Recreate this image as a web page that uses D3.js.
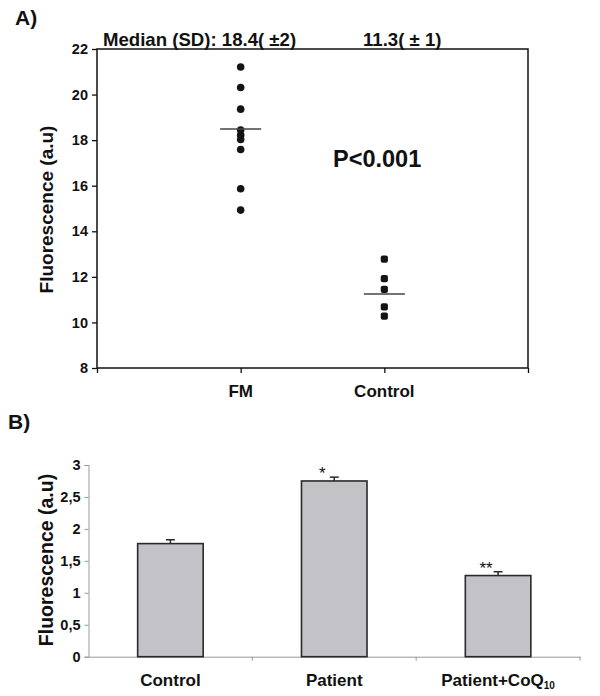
<!DOCTYPE html>
<html>
<head>
<meta charset="utf-8">
<script src="https://cdn.jsdelivr.net/npm/d3@7"></script>
<style>
  html, body { margin: 0; padding: 0; background: #fff; }
  svg { display: block; font-family: "Liberation Sans", Arial, sans-serif; }
</style>
</head>
<body>
<svg id="chart" width="600" height="696"></svg>
<script>
// ---------- Data: panel A ----------
const groupsA = ["FM", "Control"];
const fmValues = [21.21, 20.31, 19.36, 18.44, 18.22, 18.03, 17.59, 15.87, 14.93];
const controlValues = [12.78, 11.92, 11.45, 10.68, 10.28];
const mediansA = [18.49, 11.25];
const yTicksA = [8, 10, 12, 14, 16, 18, 20, 22];
const medianLabels = ["Median (SD): 18.4( \u00b12)", "11.3( \u00b1 1)"];
const pLabel = "P<0.001";

// ---------- Data: panel B ----------
const groupsB = ["Control", "Patient", "Patient+CoQ"];
const barValues = [1.77, 2.75, 1.27];
const barErrors = [0.06, 0.06, 0.06];
const barStars = ["", "*", "**"];
const yTicksB = [0, 0.5, 1, 1.5, 2, 2.5, 3];
const yTickLabelsB = ["0", "0,5", "1", "1,5", "2", "2,5", "3"];

const svg = d3.select("#chart");

// ================= Panel A =================
const A = { left: 97, right: 528, top: 49, bottom: 368 };
const xA = d3.scaleLinear().domain([0, 3]).range([A.left, A.right]);
const yA = d3.scaleLinear().domain([8, 22]).range([A.bottom, A.top]);

svg.append("text").attr("x", 15).attr("y", 25)
  .attr("font-size", 21).attr("font-weight", "bold").attr("fill", "#111").text("A)");

// frame
svg.append("rect").attr("x", A.left).attr("y", A.top)
  .attr("width", A.right - A.left).attr("height", A.bottom - A.top)
  .attr("fill", "none").attr("stroke", "#111").attr("stroke-width", 1.5);

// y axis
const gyA = svg.append("g").attr("transform", `translate(${A.left},0)`)
  .call(d3.axisLeft(yA).tickValues(yTicksA).tickSize(5).tickPadding(4).tickFormat(d3.format("d")));
gyA.select(".domain").remove();
gyA.selectAll("line").attr("stroke", "#111").attr("stroke-width", 1.3);
gyA.selectAll("text").attr("font-size", 14.5).attr("font-weight", "bold").attr("fill", "#111")
  .attr("font-family", "Liberation Sans, Arial, sans-serif");

// x axis ticks
const gxA = svg.append("g").attr("transform", `translate(0,${A.bottom})`)
  .call(d3.axisBottom(xA).tickValues([0, 1, 2, 3]).tickSize(5).tickFormat(""));
gxA.select(".domain").remove();
gxA.selectAll("line").attr("stroke", "#111").attr("stroke-width", 1.3);

// category labels
groupsA.forEach((g, i) => {
  svg.append("text").attr("x", xA(i + 1)).attr("y", 397)
    .attr("text-anchor", "middle").attr("font-size", 17).attr("font-weight", "bold")
    .attr("fill", "#111").text(g);
});

// y label
svg.append("text")
  .attr("transform", `translate(53,${(A.top + A.bottom) / 2 + 1}) rotate(-90)`)
  .attr("text-anchor", "middle").attr("font-size", 19).attr("font-weight", "bold")
  .attr("fill", "#111").text("Fluorescence (a.u)");

// median labels
svg.append("text").attr("x", 103).attr("y", 46).attr("font-size", 18.6)
  .attr("font-weight", "bold").attr("fill", "#111").text(medianLabels[0]);
svg.append("text").attr("x", 363).attr("y", 46).attr("font-size", 18.6)
  .attr("font-weight", "bold").attr("fill", "#111").text(medianLabels[1]);

// p label
svg.append("text").attr("x", 333).attr("y", 167)
  .attr("font-size", 23.5).attr("font-weight", "bold").attr("fill", "#111").text(pLabel);

// points
svg.append("g").selectAll("circle").data(fmValues).join("circle")
  .attr("cx", xA(1)).attr("cy", d => yA(d)).attr("r", 3.8).attr("fill", "#141414");
svg.append("g").selectAll("rect").data(controlValues).join("rect")
  .attr("x", xA(2) - 3.6).attr("y", d => yA(d) - 3.6).attr("width", 7.2).attr("height", 7.2)
  .attr("rx", 2).attr("fill", "#141414");

// median lines
mediansA.forEach((m, i) => {
  svg.append("line").attr("x1", xA(i + 1) - 20.5).attr("x2", xA(i + 1) + 20.5)
    .attr("y1", yA(m)).attr("y2", yA(m)).attr("stroke", "#444").attr("stroke-width", 1.6);
});

// ================= Panel B =================
const B = { left: 88.5, right: 580, top: 465, bottom: 656.7 };
const xB = d3.scaleBand().domain(groupsB).range([B.left, B.right]).paddingInner(0).paddingOuter(0);
const yB = d3.scaleLinear().domain([0, 3]).range([B.bottom, B.top]);
const barW = xB.bandwidth() * 0.4;

svg.append("text").attr("x", 8).attr("y", 429)
  .attr("font-size", 21).attr("font-weight", "bold").attr("fill", "#111").text("B)");

// y axis
const gyB = svg.append("g").attr("transform", `translate(${B.left},0)`)
  .call(d3.axisLeft(yB).tickValues(yTicksB).tickSize(4).tickPadding(4)
    .tickFormat((d, i) => yTickLabelsB[i]));
gyB.select(".domain").attr("stroke", "#999").attr("stroke-width", 1);
gyB.selectAll("line").attr("stroke", "#999");
gyB.selectAll("text").attr("font-size", 14.5).attr("font-weight", "bold").attr("fill", "#111")
  .attr("font-family", "Liberation Sans, Arial, sans-serif");

// x axis
const gxB = svg.append("g").attr("transform", `translate(0,${B.bottom})`)
  .call(d3.axisBottom(xB).tickSize(0).tickFormat(""));
gxB.select(".domain").attr("stroke", "#999").attr("stroke-width", 1);
gxB.append("g").selectAll("line").data(groupsB).join("line")
  .attr("x1", d => xB(d) + xB.bandwidth()).attr("x2", d => xB(d) + xB.bandwidth())
  .attr("y1", 0).attr("y2", 4).attr("stroke", "#999");

// bars
svg.append("g").selectAll("rect").data(groupsB).join("rect")
  .attr("x", d => xB(d) + xB.bandwidth() / 2 - barW / 2)
  .attr("y", (d, i) => yB(barValues[i]))
  .attr("width", barW)
  .attr("height", (d, i) => yB(0) - yB(barValues[i]))
  .attr("fill", "#c3c3c7").attr("stroke", "#2a2a2a").attr("stroke-width", 1.6);

// error bars
groupsB.forEach((g, i) => {
  const cx = xB(g) + xB.bandwidth() / 2;
  const yt = yB(barValues[i] + barErrors[i]);
  svg.append("line").attr("x1", cx).attr("x2", cx)
    .attr("y1", yB(barValues[i])).attr("y2", yt)
    .attr("stroke", "#2a2a2a").attr("stroke-width", 1.5);
  svg.append("line").attr("x1", cx - 4.5).attr("x2", cx + 4.5)
    .attr("y1", yt).attr("y2", yt)
    .attr("stroke", "#2a2a2a").attr("stroke-width", 1.5);
  if (barStars[i]) {
    svg.append("text").attr("x", cx - 12).attr("y", yt + 2)
      .attr("text-anchor", "middle").attr("font-size", 17).attr("fill", "#111").text(barStars[i]);
  }
});

// x labels
groupsB.forEach((g, i) => {
  const t = svg.append("text").attr("x", xB(g) + xB.bandwidth() / 2).attr("y", 686)
    .attr("text-anchor", "middle").attr("font-size", 17).attr("font-weight", "bold").attr("fill", "#111");
  t.append("tspan").text(g);
  if (g === "Patient+CoQ") {
    t.append("tspan").attr("font-size", 10).attr("dy", 3).text("10");
  }
});

// y label B
svg.append("text")
  .attr("transform", `translate(53,560) rotate(-90)`)
  .attr("text-anchor", "middle").attr("font-size", 19.5).attr("font-weight", "bold")
  .attr("fill", "#111").text("Fluorescence (a.u)");
</script>
</body>
</html>
